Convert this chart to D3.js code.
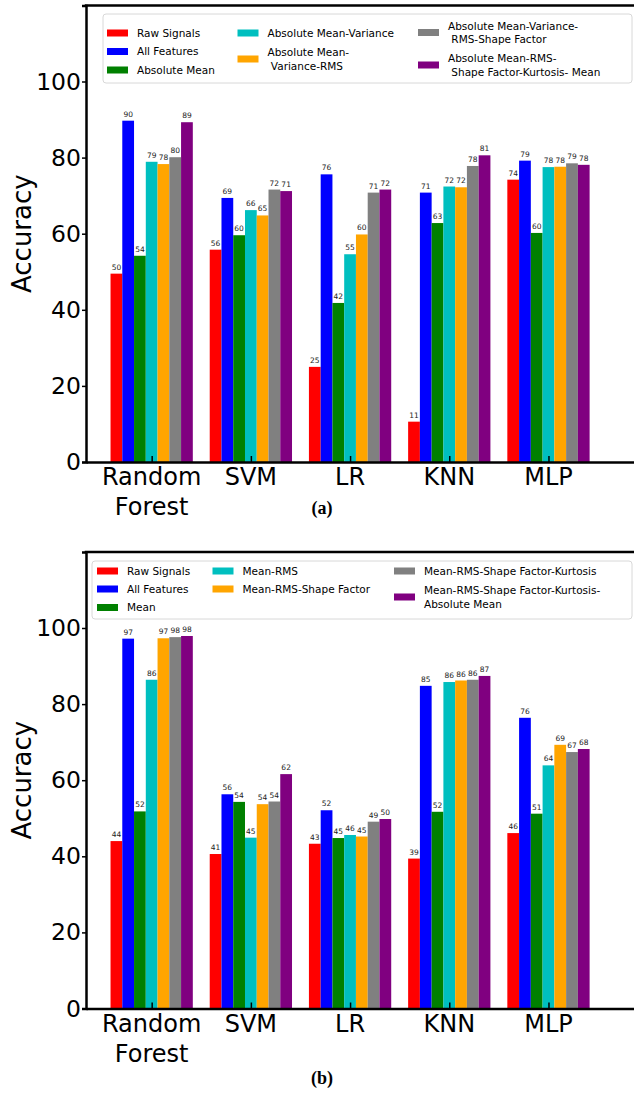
<!DOCTYPE html>
<html>
<head>
<meta charset="utf-8">
<script src="https://cdn.jsdelivr.net/npm/d3@7"></script>
<style>
	body { margin: 0; background: #fff; }
	text { font-family: 'DejaVu Sans', sans-serif; }
	text.caption { font-family: 'Liberation Serif', serif; }
</style>
</head>
<body>
<div id="chart"></div>
<script>
const models = ['Random\nForest', 'SVM', 'LR', 'KNN', 'MLP'];
const colors = ['#ff0000', '#0000ff', '#008000', '#00bfbf', '#ffa500', '#808080', '#800080'];
const yTicks = [0, 20, 40, 60, 80, 100];

// panel (a)
const seriesA = [
	'Raw Signals', 'All Features', 'Absolute Mean', 'Absolute Mean-Variance',
	'Absolute Mean-\n Variance-RMS', 'Absolute Mean-Variance-\n RMS-Shape Factor',
	'Absolute Mean-RMS-\n Shape Factor-Kurtosis- Mean'
];
const rawA = [49.5, 55.8, 25.0, 10.6, 74.2];
const allA = [89.7, 69.4, 75.6, 70.8, 79.2];
const absMeanA = [54.2, 59.6, 41.8, 62.8, 60.2];
const mvA = [78.9, 66.2, 54.6, 72.4, 77.5];
const mvrA = [78.3, 64.8, 59.8, 72.2, 77.6];
const mvrsA = [80.1, 71.6, 70.8, 77.8, 78.5];
const mrskmA = [89.3, 71.2, 71.6, 80.6, 78.1];

// panel (b)
const seriesB = [
	'Raw Signals', 'All Features', 'Mean', 'Mean-RMS', 'Mean-RMS-Shape Factor',
	'Mean-RMS-Shape Factor-Kurtosis', 'Mean-RMS-Shape Factor-Kurtosis-\nAbsolute Mean'
];
const rawB = [44.0, 40.6, 43.3, 39.4, 46.1];
const allB = [97.2, 56.3, 52.1, 84.8, 76.4];
const meanB = [51.8, 54.3, 44.8, 51.7, 51.2];
const mrB = [86.4, 44.9, 45.6, 85.8, 63.9];
const mrsB = [97.3, 53.7, 45.2, 86.2, 69.3];
const mrskB = [97.6, 54.4, 49.1, 86.4, 67.4];
const mrskamB = [97.9, 61.6, 49.8, 87.4, 68.2];

const W = 634, H = 1093;
const svg = d3.select('#chart').append('svg')
	.attr('width', W)
	.attr('height', H);

function drawPanel(opts) {
	const { y0, series, values, legend, caption } = opts;
	const left = 86;

	const x = d3.scaleLinear()
		.domain([-0.662, 4.9])
		.range([left, left + 5.562 * 99.2]);

	const y = d3.scaleLinear()
		.domain([0, 120])
		.range([y0, y0 - 120 * 3.805]);

	const barW = 0.1185;
	const g = svg.append('g');

	// bars
	values.forEach((vals, j) => {
		const sg = g.append('g').attr('fill', colors[j]);
		sg.selectAll('rect')
			.data(vals)
			.join('rect')
			.attr('x', (d, i) => x(i + (j - 3.5) * barW))
			.attr('width', x(barW) - x(0))
			.attr('y', d => y(d))
			.attr('height', d => y(0) - y(d));

		g.append('g').selectAll('text')
			.data(vals)
			.join('text')
			.attr('x', (d, i) => x(i + (j - 3) * barW))
			.attr('y', d => y(d) - 4)
			.attr('text-anchor', 'middle')
			.attr('font-size', 7.5)
			.attr('fill', '#222')
			.text(d => Math.round(d));
	});

	// axes
	const yAxis = d3.axisLeft(y)
		.tickValues(yTicks)
		.tickSize(4)
		.tickPadding(1);

	g.append('g')
		.attr('transform', `translate(${left},0)`)
		.call(yAxis)
		.call(a => a.select('.domain').attr('stroke-width', 2.5))
		.call(a => a.selectAll('.tick line').attr('stroke-width', 1.5))
		.call(a => a.selectAll('.tick text')
			.attr('font-size', 23.5)
			.attr('fill', '#000')
			.attr('font-family', 'DejaVu Sans'));

	const xAxis = d3.axisBottom(x)
		.tickValues(d3.range(models.length))
		.tickSize(-6)
		.tickSizeOuter(0)
		.tickFormat('');

	g.append('g')
		.attr('transform', `translate(0,${y0})`)
		.call(xAxis)
		.call(a => a.select('.domain').attr('stroke-width', 2.5))
		.call(a => a.selectAll('.tick line').attr('stroke-width', 1.5));

	// top spine
	g.append('line')
		.attr('x1', left - 1.25).attr('x2', W + 10)
		.attr('y1', y(120)).attr('y2', y(120))
		.attr('stroke', '#000')
		.attr('stroke-width', 2.5);

	// x labels
	models.forEach((m, i) => {
		const t = g.append('text')
			.attr('text-anchor', 'middle')
			.attr('font-size', 24)
			.attr('fill', '#000');
		m.split('\n').forEach((line, k) => {
			t.append('tspan')
				.attr('x', x(i))
				.attr('y', y0 + 23 + k * 30)
				.text(line);
		});
	});

	// y label
	g.append('text')
		.attr('transform', `translate(31,${(y(0) + y(120)) / 2}) rotate(-90)`)
		.attr('text-anchor', 'middle')
		.attr('font-size', 26)
		.attr('fill', '#000')
		.text('Accuracy');

	// legend
	const lg = g.append('g');
	lg.append('rect')
		.attr('x', legend.x).attr('y', legend.y)
		.attr('width', legend.w).attr('height', legend.h)
		.attr('rx', 3)
		.attr('fill', '#fff')
		.attr('stroke', '#d8d8d8')
		.attr('stroke-width', 1);

	legend.items.forEach((it, j) => {
		lg.append('rect')
			.attr('x', it[0]).attr('y', it[1] - 3.5)
			.attr('width', 21).attr('height', 7)
			.attr('fill', colors[j]);
		const lines = series[j].split('\n');
		const t = lg.append('text')
			.attr('font-size', 10.5)
			.attr('fill', '#000')
			.style('white-space', 'pre');
		lines.forEach((line, k) => {
			t.append('tspan')
				.attr('x', it[0] + 30)
				.attr('y', it[1] + 3.8 + (k - (lines.length - 1) / 2) * 13.5)
				.text(line);
		});
	});

	// caption
	svg.append('text')
		.attr('class', 'caption')
		.attr('x', 322)
		.attr('y', caption)
		.attr('text-anchor', 'middle')
		.attr('font-weight', 'bold')
		.attr('font-size', 18)
		.attr('fill', '#000')
		.text(opts.label);
}

drawPanel({
	y0: 462,
	series: seriesA,
	values: [rawA, allA, absMeanA, mvA, mvrA, mvrsA, mrskmA],
	legend: {
		x: 103, y: 14, w: 529, h: 69,
		items: [[107, 33], [107, 51.5], [107, 70], [237.5, 33], [237.5, 59], [418, 32.5], [418, 65]]
	},
	caption: 514,
	label: '(a)'
});

drawPanel({
	y0: 1008.5,
	series: seriesB,
	values: [rawB, allB, meanB, mrB, mrsB, mrskB, mrskamB],
	legend: {
		x: 92, y: 561, w: 540, h: 58,
		items: [[97, 571], [97, 589], [97, 607.5], [212.5, 571], [212.5, 589], [394, 571], [394, 597]]
	},
	caption: 1084,
	label: '(b)'
});
</script>
</body>
</html>
